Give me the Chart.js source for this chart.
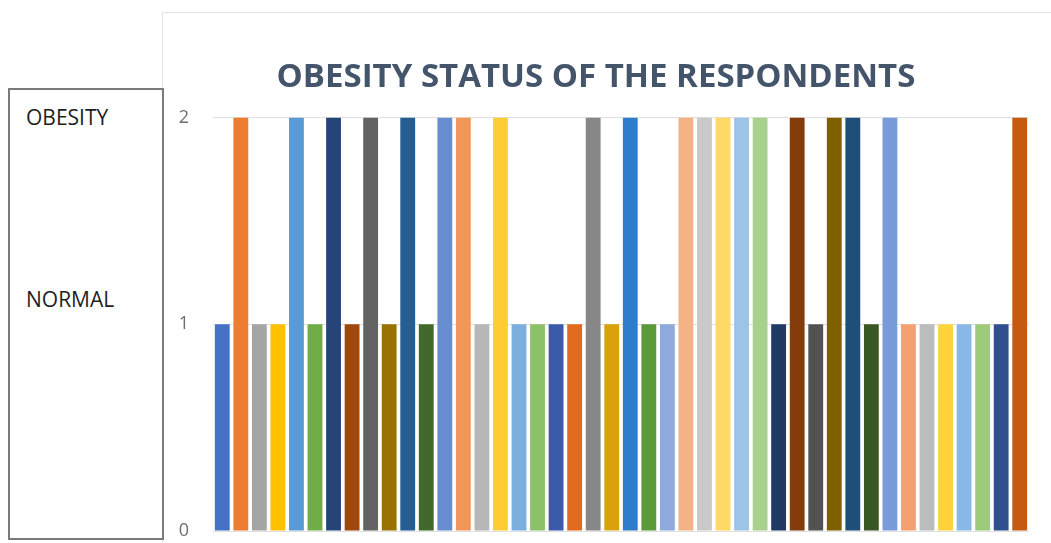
<!DOCTYPE html>
<html lang="en">
<head>
  <meta charset="UTF-8">
  <title>Obesity status</title>
  <script src="https://cdn.jsdelivr.net/npm/chart.js"></script>
</head>
<style>
  body { margin: 0; background: #fff; font-family: "Open Sans", sans-serif; }
  #wrap { position: relative; width: 1051px; height: 543px; overflow: hidden; }
  #frame {
    position: absolute; left: 162px; top: 12px; width: 900px; height: 540px;
    border-top: 1px solid #e3e3e3; border-left: 1px solid #e3e3e3;
  }
  #legendBox {
    position: absolute; left: 8px; top: 88px; width: 152px; height: 448px;
    border: 2px solid #7a7a7a;
  }
  .lbl { position: absolute; left: 16px; font-size: 21px; color: #1e1e1e; }
  canvas { position: absolute; left: 0; top: 0; }
</style>
<body>
  <div id="wrap">
    <div id="frame"></div>
    <div id="legendBox">
      <div class="lbl" style="top: 13px;">OBESITY</div>
      <div class="lbl" style="top: 195px;">NORMAL</div>
    </div>
    <canvas id="obesityChart" width="1051" height="543"></canvas>
  </div>
  <script>
    // Respondent numbers and status (1 = normal, 2 = obesity)
    const respondents = Array.from({length: 44}, (_, i) => 'R' + (i + 1));
    const status = [1, 2, 1, 1, 2, 1, 2, 1, 2, 1, 2,
                    1, 2, 2, 1, 2, 1, 1, 1, 1, 2, 1,
                    2, 1, 1, 2, 2, 2, 2, 2, 1, 2, 1,
                    2, 2, 1, 2, 1, 1, 1, 1, 1, 1, 2];
    const barColors = ['#4472C4', '#ED7D31', '#A5A5A5', '#FFC000', '#5B9BD5', '#70AD47', '#264478', '#9E480E', '#636363', '#997300', '#255E91',
                       '#43682B', '#698ED0', '#F1975A', '#B7B7B7', '#FFCD33', '#7CAFDD', '#8CC168', '#3A5CA8', '#E06A1E', '#878787', '#D9A20C',
                       '#2E7DCB', '#5A9A3A', '#8FAADC', '#F4B183', '#C9C9C9', '#FFD966', '#9DC3E6', '#A9D18E', '#203864', '#843C0C', '#525252',
                       '#7F6000', '#1F4E79', '#385723', '#7A9BD9', '#F4A070', '#BCBCBC', '#FFD43B', '#8AB8E6', '#9CCB7A', '#2F4F8F', '#C55A11'];
    const yTicks = [0, 1, 2];

    const ctx = document.getElementById('obesityChart').getContext('2d');
    new Chart(ctx, {
      type: 'bar',
      data: {
        labels: respondents,
        datasets: [{
          label: 'Status',
          data: status,
          backgroundColor: barColors,
          borderWidth: 0,
          categoryPercentage: 1.0,
          barPercentage: 0.8
        }]
      },
      options: {
        responsive: false,
        animation: false,
        layout: { padding: { left: 163, right: 22, top: 12, bottom: 12 } },
        plugins: {
          legend: { display: false },
          tooltip: { enabled: false },
          title: {
            display: true,
            text: 'OBESITY STATUS OF THE RESPONDENTS',
            color: '#44546A',
            font: { family: 'Open Sans', size: 33, weight: 'bold', lineHeight: 1.2 },
            padding: { top: 46, bottom: 20 }
          }
        },
        scales: {
          x: { display: false },
          y: {
            min: 0,
            max: 2,
            afterFit: (scale) => {
              scale.width = 50;
              scale.paddingTop = 0;
              scale.paddingBottom = 0;
            },
            afterBuildTicks: (scale) => { scale.ticks = yTicks.map(v => ({ value: v })); },
            grid: { color: '#e0e0e0', drawTicks: false },
            border: { display: false },
            ticks: { color: '#6f6f6f', padding: 24, font: { family: 'Open Sans', size: 18 } }
          }
        }
      }
    });
  </script>
</body>
</html>
